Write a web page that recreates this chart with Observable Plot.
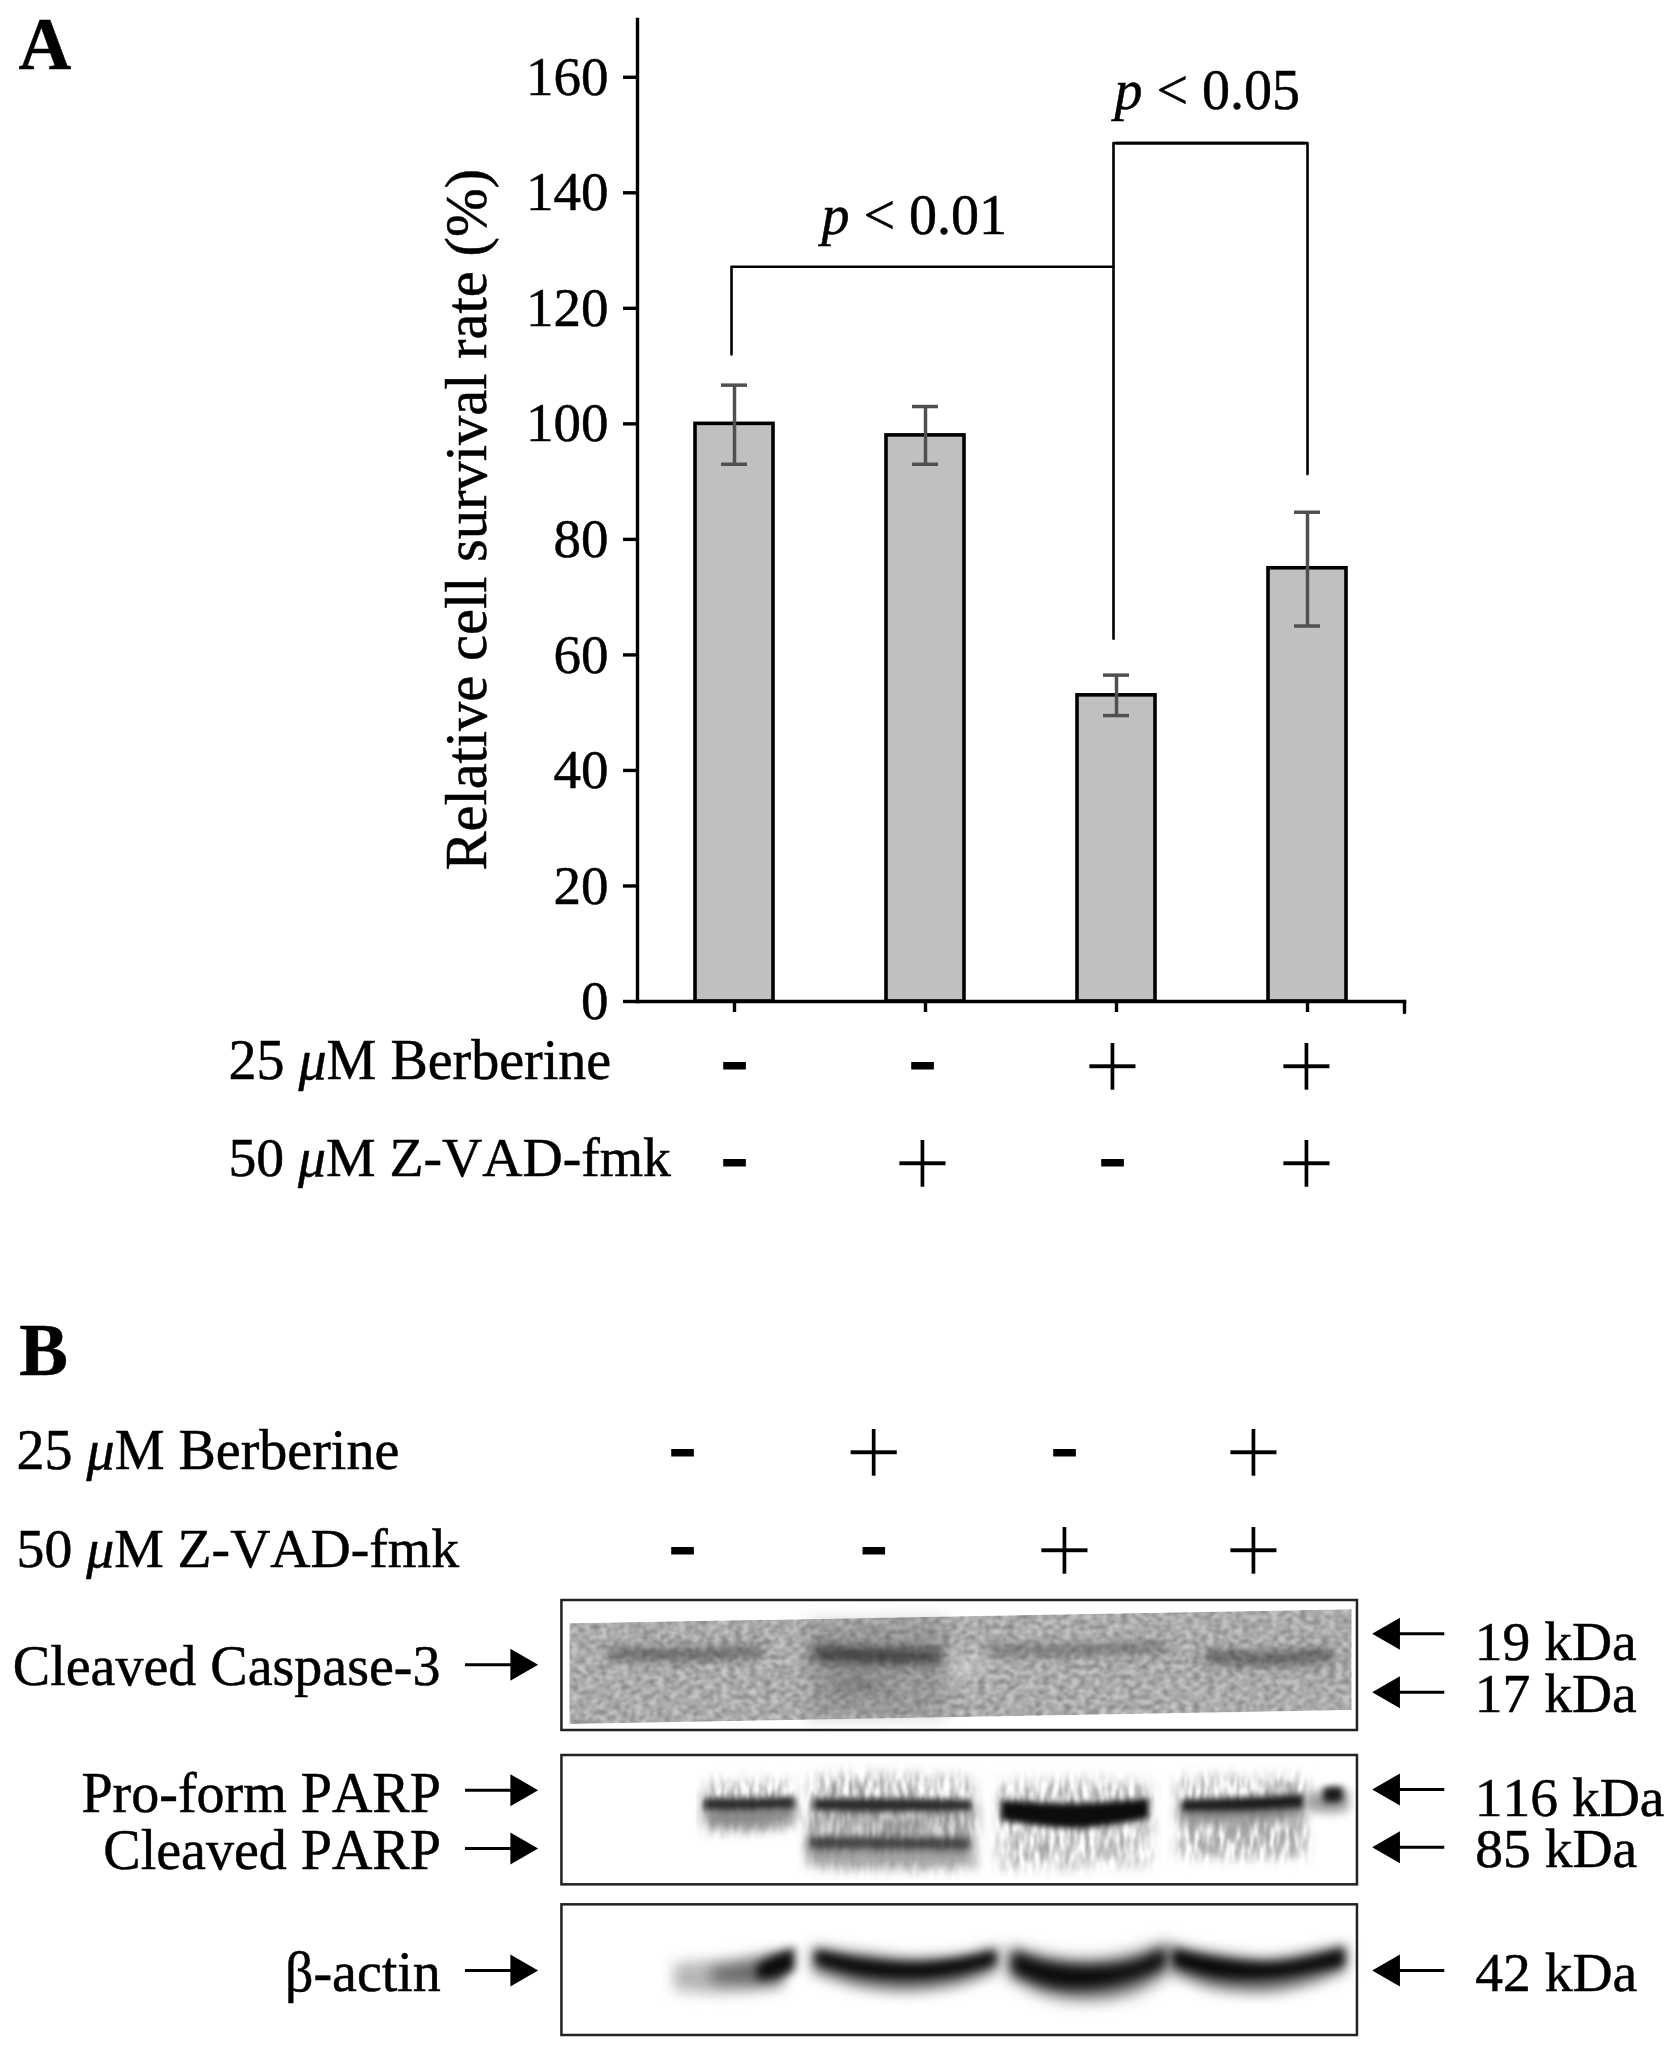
<!DOCTYPE html>
<html>
<head>
<meta charset="utf-8">
<script src="https://cdn.jsdelivr.net/npm/d3@7"></script>
<script src="https://cdn.jsdelivr.net/npm/@observablehq/plot@0.6"></script>
<style>
html,body{margin:0;padding:0;background:#fff}
svg{display:block;background:#fff}
svg text{font-kerning:none;stroke:black;stroke-width:.5px}
</style>
</head>
<body>
<svg width="0" height="0" style="position:absolute">
  <defs>
    <filter id="grain" x="-2%" y="-2%" width="104%" height="104%" color-interpolation-filters="sRGB">
      <feTurbulence type="fractalNoise" baseFrequency="0.14 0.2" numOctaves="3" seed="4" result="n"/>
      <feColorMatrix in="n" type="matrix" values="0.65 0 0 0 0.53  0.65 0 0 0 0.53  0.65 0 0 0 0.53  0 0 0 0 1" result="g"/>
      <feGaussianBlur in="g" stdDeviation="0.9" result="gb"/>
      <feBlend in="SourceGraphic" in2="gb" mode="multiply" result="m"/>
      <feComposite in="m" in2="SourceAlpha" operator="in"/>
    </filter>
    <filter id="streak" x="-8%" y="-30%" width="116%" height="160%" color-interpolation-filters="sRGB">
      <feGaussianBlur in="SourceGraphic" stdDeviation="7" result="soft"/>
      <feTurbulence type="fractalNoise" baseFrequency="0.2 0.05" numOctaves="2" seed="9" result="n"/>
      <feColorMatrix in="n" type="matrix" values="0 0 0 0 0  0 0 0 0 0  0 0 0 0 0  2.6 0 0 0 -0.85" result="a"/>
      <feComposite in="soft" in2="a" operator="in" result="c"/>
      <feGaussianBlur in="c" stdDeviation="1.3"/>
    </filter>
  </defs>
</svg>
<div id="chart"></div>
<script>
// ---------- Panel A data ----------
const treatments = ["ctrl", "zvad", "berb", "both"];
const survival = [100, 98, 53, 75];
const errLow = [93, 93, 49.5, 65];
const errHigh = [106.7, 103, 56.5, 84.7];
const berberineSigns = ["-", "-", "+", "+"];
const zvadSigns = ["-", "+", "-", "+"];
const yTicks = [0, 20, 40, 60, 80, 100, 120, 140, 160];
const bracketLeft = [["ctrl", 112], ["ctrl", 127.2], ["berb", 127.2]];
const bracketMiddle = [["berb", 62.8], ["berb", 148.6], ["both", 148.6]];
const bracketRight = [["berb", 148.6], ["both", 148.6], ["both", 91.3]];

// ---------- Panel B data (gel units) ----------
const signColumns = [265, 622, 978, 1331];
const bSigns1 = ["-", "+", "-", "+"];
const bSigns2 = ["-", "-", "+", "+"];
const frames = [[60, 450], [525, 913], [973, 1365]];
const leftArrowRows = [253, 629, 804, 1170];
const rightArrowRows = [160, 335, 627, 800, 1170];
const leftLabels = [["Cleaved Caspase-3", 314], ["Pro-form PARP", 693], ["Cleaved PARP", 866], ["β-actin", 1230]];
const kdaLabels = [["19 kDa", 1744, 237], ["17 kDa", 1744, 395], ["116 kDa", 1744, 705], ["85 kDa", 1745, 858], ["42 kDa", 1745, 1232]];

// blot outlines: [x, top, bottom]
const casMembrane = [[55, 130, 432], [1512, 88, 390], [1515, 88, 390]];
const casLane2Shade = [[500, 122, 418], [640, 118, 414], [760, 115, 410]];
const casBand1 = [[130, 203, 240], [280, 203, 242], [415, 198, 230]];
const casBand2 = [[510, 198, 242], [630, 203, 252], [750, 208, 247]];
const casBand2b = [[545, 295, 325], [590, 295, 330], [640, 298, 325]];
const casBand3 = [[840, 193, 224], [1000, 193, 227], [1170, 186, 217]];
const casBand4 = [[1240, 213, 247], [1360, 218, 254], [1480, 206, 242]];
const casLight = [[760, 235, 290], [800, 230, 300], [830, 240, 280]];

const parpHalo1 = [[305, 610, 750], [390, 605, 750], [475, 610, 735]];
const parpSmear1 = [[310, 680, 740], [390, 680, 745], [475, 675, 725]];
const parpCore1 = [[305, 655, 690], [390, 655, 690], [475, 650, 685]];
const parpHalo2 = [[505, 590, 860], [650, 585, 865], [810, 600, 860]];
const parpSmear2 = [[505, 690, 755], [650, 690, 760], [810, 690, 755]];
const parpSmear2b = [[500, 800, 855], [650, 805, 860], [810, 800, 855]];
const parpCore2 = [[510, 655, 692], [650, 655, 695], [805, 660, 692]];
const parpLow2 = [[500, 768, 808], [650, 770, 810], [805, 772, 810]];
const parpHalo3 = [[855, 610, 860], [1000, 600, 860], [1140, 610, 850]];
const parpCore3 = [[860, 660, 720], [1000, 670, 745], [1137, 655, 715]];
const parpHalo4 = [[1190, 590, 830], [1320, 590, 830], [1430, 590, 830]];
const parpSmear4 = [[1195, 680, 730], [1320, 675, 730], [1425, 670, 715]];
const parpCore4 = [[1198, 660, 694], [1320, 652, 692], [1425, 642, 684]];
const parpDot4 = [[1462, 625, 665], [1480, 620, 668], [1498, 622, 662]];
const parpDotHalo4 = [[1430, 640, 690], [1480, 630, 700], [1510, 630, 690]];
const parpGhost4 = [[1210, 745, 810], [1320, 750, 825], [1420, 745, 810]];

const actinFaint = [[250, 1150, 1230], [340, 1140, 1240], [450, 1115, 1225]];
const actinMid = [[320, 1165, 1205], [400, 1145, 1210], [455, 1120, 1205]];
const actinDark = [[405, 1155, 1198], [440, 1125, 1192], [475, 1100, 1170]];
const actinHalo2 = [[508, 1100, 1175], [600, 1120, 1220], [700, 1135, 1232], [790, 1125, 1210], [855, 1100, 1170]];
const actinLane2 = [[515, 1112, 1150], [600, 1138, 1185], [700, 1150, 1195], [790, 1135, 1178], [850, 1112, 1150]];
const actinHalo3 = [[875, 1100, 1190], [950, 1130, 1245], [1030, 1140, 1258], [1110, 1120, 1235], [1172, 1085, 1180]];
const actinLane3 = [[882, 1115, 1175], [950, 1150, 1215], [1030, 1160, 1222], [1110, 1145, 1195], [1168, 1105, 1155]];
const actinHalo4 = [[1175, 1095, 1175], [1260, 1120, 1225], [1360, 1135, 1235], [1440, 1115, 1210], [1505, 1095, 1170]];
const actinLane4 = [[1182, 1108, 1155], [1260, 1135, 1190], [1360, 1150, 1195], [1440, 1132, 1175], [1500, 1105, 1155]];

const serif = "'Liberation Serif','Times New Roman',serif";
const signFace = "'DejaVu Sans',sans-serif";

function blob(points, fill, blur, extra) {
  return Plot.area(points, {
    x1: d => d[0], y1: d => d[1], y2: d => d[2],
    fill, curve: "catmull-rom", imageFilter: blur ? `blur(${blur}px)` : undefined, ...extra
  });
}
function streaked(points, fill) {
  return Plot.area(points, {x1: d => d[0], y1: d => d[1], y2: d => d[2], fill, curve: "catmull-rom", imageFilter: "url(#streak)"});
}
function finish(root) {
  d3.select(root).selectAll("text").each(function () {
    const t = this.textContent;
    if (t === "+") { this.style.stroke = "white"; this.style.strokeWidth = "2.6px"; return; }
    if (t === "-") { this.style.stroke = "black"; this.style.strokeWidth = "1px"; return; }
    const m = /^(.*?)(μ|^p(?= <))(.*)$/.exec(t);
    if (!m || this.querySelector("tspan")) return;
    this.textContent = "";
    const sel = d3.select(this);
    if (m[1]) sel.append("tspan").text(m[1]);
    sel.append("tspan").attr("font-style", "italic").text(m[2]);
    sel.append("tspan").text(m[3]);
  });
  return root;
}

// ---------- Panel A ----------
const rows = treatments.map((t, i) => ({t, v: survival[i], lo: errLow[i], hi: errHigh[i], b: berberineSigns[i], z: zvadSigns[i]}));
const nudge = [0, -3, -4, -1];
const signSize = s => s === "+" ? 78 : 82;
const signLift = s => s === "+" ? 0 : -4;

function signMarks(r, i) {
  const mk = (sign, y) => Plot.text([sign], {
    x: () => r.t, y: () => y, text: d => d, dx: nudge[i], dy: signLift(sign),
    fontSize: signSize(sign), fontFamily: signFace, fill: "black", lineAnchor: "middle"
  });
  return [mk(r.b, -11.1), mk(r.z, -27.9)];
}

const endTick = {draw(context, l) { context.moveTo(0, 0); context.lineTo(0, -l); }};

const chartA = Plot.plot({
  width: 1677, height: 1300,
  marginLeft: 637, marginRight: 273, marginTop: 19, marginBottom: 299,
  x: {domain: treatments, paddingInner: 0.593, paddingOuter: 0.2965, label: null},
  y: {domain: [0, 170], label: null},
  style: {fontFamily: serif, fontSize: "54px", color: "black", background: "white", overflow: "visible"},
  marks: [
    Plot.barY(rows, {x: "t", y: "v", fill: "#c0c0c0", stroke: "black", strokeWidth: 3.6}),
    Plot.ruleX(rows, {x: "t", y1: "lo", y2: "hi", stroke: "#505050", strokeWidth: 3.5}),
    Plot.tickY(rows.flatMap(r => [{t: r.t, y: r.lo}, {t: r.t, y: r.hi}]), {x: "t", y: "y", stroke: "#505050", strokeWidth: 3.5, insetLeft: 26, insetRight: 26}),
    Plot.frame({anchor: "left", stroke: "black", strokeWidth: 3.4}),
    Plot.frame({anchor: "bottom", stroke: "black", strokeWidth: 3.4}),
    Plot.axisY({ticks: yTicks, tickSize: 14, tickPadding: 15, strokeWidth: 3.4, label: null, tickFormat: d => d, fontSize: 55}),
    Plot.axisX({tickSize: 11, strokeWidth: 3.4, tickFormat: () => "", label: null}),
    Plot.vector([1], {frameAnchor: "bottom-right", length: 11, rotate: 180, anchor: "start", stroke: "black", strokeWidth: 3.4, shape: endTick}),
    Plot.line(bracketLeft, {x: d => d[0], y: d => d[1], stroke: "black", strokeWidth: 2.6, dx: -3}),
    Plot.line(bracketMiddle, {x: d => d[0], y: d => d[1], stroke: "black", strokeWidth: 2.6, dx: -3}),
    Plot.line(bracketRight, {x: d => d[0], y: d => d[1], stroke: "black", strokeWidth: 2.6}),
    Plot.text(["p < 0.01"], {frameAnchor: "left", dx: 184, y: () => 132.8, textAnchor: "start", lineAnchor: "bottom", fontSize: 56, fill: "black"}),
    Plot.text(["p < 0.05"], {frameAnchor: "left", dx: 477, y: () => 154.5, textAnchor: "start", lineAnchor: "bottom", fontSize: 56, fill: "black"}),
    Plot.text(["Relative cell survival rate (%)"], {frameAnchor: "left", dx: -152, y: () => 83.4, rotate: -90, textAnchor: "middle", lineAnchor: "bottom", fontSize: 58.5, fill: "black"}),
    Plot.text(["25 μM Berberine"], {frameAnchor: "left", dx: -409, y: () => -13.5, textAnchor: "start", lineAnchor: "bottom", fontSize: 56, fill: "black"}),
    Plot.text(["50 μM Z-VAD-fmk"], {frameAnchor: "left", dx: -409, y: () => -30.2, textAnchor: "start", lineAnchor: "bottom", fontSize: 55.7, fill: "black"}),
    Plot.text(["A"], {frameAnchor: "left", dx: -619, y: () => 161.4, textAnchor: "start", lineAnchor: "bottom", fontSize: 73, fontWeight: "bold", fill: "black"}),
    rows.map(signMarks)
  ]
});

// ---------- Panel B ----------
const signRowsB = signColumns.flatMap((x, i) => [
  {x, y: -384, s: bSigns1[i]}, {x, y: -90, s: bSigns2[i]}
]);
const chartB = Plot.plot({
  width: 1677, height: 749,
  margin: 0,
  x: {domain: [0, 1568], range: [540, 1380], axis: null},
  y: {domain: [0, 1407], range: [280, 749], axis: null},
  style: {fontFamily: serif, fontSize: "54px", color: "black", background: "white", overflow: "visible"},
  marks: [
    // Caspase-3 membrane
    Plot.area(casMembrane, {x1: d => d[0], y1: d => d[1], y2: d => d[2], fill: "#c8c8c8", imageFilter: "url(#grain)"}),
    blob(casLane2Shade, "#666", 8, {fillOpacity: 0.28}),
    blob(casLight, "#fff", 8, {fillOpacity: 0.3}),
    blob(casBand1, "#333", 5, {fillOpacity: 0.55}),
    blob(casBand2, "#1c1c1c", 6, {fillOpacity: 0.72}),
    blob(casBand2b, "#444", 7, {fillOpacity: 0.45}),
    blob(casBand3, "#444", 5, {fillOpacity: 0.5}),
    blob(casBand4, "#2a2a2a", 6, {fillOpacity: 0.68}),
    // PARP
    streaked(parpHalo1, "#9a9a9a"),
    streaked(parpHalo2, "#9a9a9a"),
    streaked(parpHalo3, "#a8a8a8"),
    streaked(parpHalo4, "#a8a8a8"),
    streaked(parpGhost4, "#a8a8a8"),
    blob(parpSmear1, "#888", 6),
    blob(parpSmear2, "#c8c8c8", 7),
    streaked(parpSmear2, "#8c8c8c"),
    blob(parpSmear2b, "#a0a0a0", 6),
    blob(parpSmear4, "#888", 6),
    blob(parpDotHalo4, "#a0a0a0", 5),
    blob(parpCore1, "#2a2a2a", 3),
    blob(parpCore2, "#2a2a2a", 3),
    blob(parpLow2, "#3a3a3a", 4),
    blob(parpCore3, "#0c0c0c", 3),
    blob(parpCore4, "#1c1c1c", 3),
    blob(parpDot4, "#1c1c1c", 3),
    // actin
    blob(actinFaint, "#b5b5b5", 7),
    blob(actinMid, "#666", 7),
    blob(actinDark, "#0c0c0c", 5),
    blob(actinHalo2, "#666", 7),
    blob(actinHalo3, "#666", 8),
    blob(actinHalo4, "#666", 7),
    blob(actinLane2, "#0a0a0a", 5),
    blob(actinLane3, "#0a0a0a", 6),
    blob(actinLane4, "#0a0a0a", 5),
    // frames
    Plot.rect(frames, {x1: () => 40, x2: () => 1525, y1: d => d[0], y2: d => d[1], fill: "none", stroke: "#222", strokeWidth: 2.5}),
    // arrows
    Plot.ruleY(leftArrowRows, {x1: () => -140, x2: () => -50, y: d => d, stroke: "black", strokeWidth: 3}),
    Plot.dot(leftArrowRows, {x: () => -39, y: d => d, symbol: "triangle2", rotate: 90, r: 15.3, fill: "black", stroke: "none"}),
    Plot.ruleY(rightArrowRows, {x1: () => 1600, x2: () => 1688, y: d => d, stroke: "black", strokeWidth: 3}),
    Plot.dot(rightArrowRows, {x: () => 1587, y: d => d, symbol: "triangle2", rotate: -90, r: 15.3, fill: "black", stroke: "none"}),
    // text
    Plot.text(["B"], {x: () => -973, y: () => -618, textAnchor: "start", lineAnchor: "bottom", fontSize: 73, fontWeight: "bold", fill: "black"}),
    Plot.text(["25 μM Berberine"], {x: () => -978, y: () => -336, textAnchor: "start", lineAnchor: "bottom", fontSize: 56, fill: "black"}),
    Plot.text(["50 μM Z-VAD-fmk"], {x: () => -978, y: () => -40, textAnchor: "start", lineAnchor: "bottom", fontSize: 55.7, fill: "black"}),
    Plot.text(leftLabels.slice(0, 1), {x: () => -985, y: d => d[1], text: d => d[0], textAnchor: "start", lineAnchor: "bottom", fontSize: 56, fill: "black"}),
    Plot.text(leftLabels.slice(1), {x: () => -186, y: d => d[1], text: d => d[0], textAnchor: "end", lineAnchor: "bottom", fontSize: 56, fill: "black"}),
    Plot.text(kdaLabels, {x: d => d[1], y: d => d[2], text: d => d[0], textAnchor: "start", lineAnchor: "bottom", fontSize: 55.5, fill: "black"}),
    Plot.text(signRowsB.filter(d => d.s === "+"), {x: "x", y: "y", text: "s", fontSize: 78, fontFamily: signFace, lineAnchor: "middle", fill: "black"}),
    Plot.text(signRowsB.filter(d => d.s === "-"), {x: "x", y: "y", text: "s", fontSize: 82, fontFamily: signFace, dy: -4, lineAnchor: "middle", fill: "black"})
  ]
});

const host = document.getElementById("chart");
host.appendChild(finish(chartA));
host.appendChild(finish(chartB));
</script>
</body>
</html>
